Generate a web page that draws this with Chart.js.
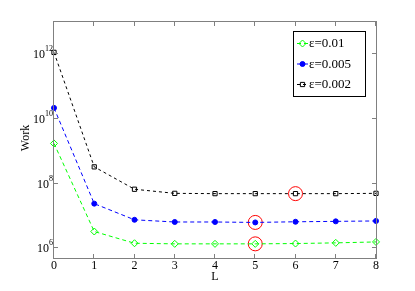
<!DOCTYPE html>
<html>
<head>
<meta charset="utf-8">
<script src="https://cdn.jsdelivr.net/npm/chart.js@4/dist/chart.umd.min.js"></script>
<style>
  html, body { margin: 0; padding: 0; background: #fff; }
  canvas { display: block; }
</style>
</head>
<body>
<canvas id="workChart" width="415" height="291"></canvas>
<script>
"use strict";
// levels on the x axis
const levels = [0, 1, 2, 3, 4, 5, 6, 7, 8];
// work for each tolerance
const work001 = [1.75e9, 3.3e6, 1.43e6, 1.37e6, 1.37e6, 1.37e6, 1.4e6, 1.47e6, 1.57e6];
const work0005 = [2.2e10, 2.4e7, 7.6e6, 6.5e6, 6.5e6, 6.3e6, 6.6e6, 6.8e6, 7.0e6];
const work0002 = [1.15e12, 3.3e8, 6.7e7, 5.0e7, 4.9e7, 4.9e7, 4.9e7, 4.9e7, 5.0e7];
const seriesLabels = ['ε=0.01', 'ε=0.005', 'ε=0.002'];
// optimal level marked with a red circle, per series
const optimalLevel = [5, 5, 6];
const yTicks = [1e6, 1e8, 1e10, 1e12];
const yExponents = ['6', '8', '10', '12'];

const serif = '"Liberation Serif", "DejaVu Serif", serif';
const allSeries = [work001, work0005, work0002];

const toPoints = arr => arr.map((v, i) => ({ x: levels[i], y: v }));

const styles = [
    { color: '#00ff00', pointStyle: 'rectRot', radius: 3.5, fill: 'rgba(0,0,0,0)', dash: [4, 3] },
    { color: '#0000ff', pointStyle: 'circle', radius: 2.5, fill: '#0000ff', dash: [4, 3] },
    { color: '#000000', pointStyle: 'rect', radius: 3, fill: 'rgba(0,0,0,0)', dash: [3, 3] },
];

const datasets = allSeries.map((arr, k) => ({
    label: seriesLabels[k],
    data: toPoints(arr),
    borderColor: styles[k].color,
    backgroundColor: styles[k].fill,
    borderWidth: 1,
    borderDash: styles[k].dash,
    pointStyle: styles[k].pointStyle,
    pointRadius: styles[k].radius,
    pointBorderWidth: 1,
    pointBorderColor: styles[k].color,
    pointBackgroundColor: styles[k].fill,
    showLine: true,
    tension: 0,
    clip: 12,
}));

datasets.push({
    label: 'optimal',
    data: optimalLevel.map((lv, k) => ({ x: lv, y: allSeries[k][levels.indexOf(lv)] })),
    showLine: false,
    pointStyle: 'circle',
    pointRadius: 7,
    pointBorderWidth: 1,
    pointBorderColor: '#ff0000',
    pointBackgroundColor: 'rgba(0,0,0,0)',
    clip: 12,
});

const framePlugin = {
    id: 'matlabFrame',
    afterDraw(chart) {
        const { ctx, chartArea: a, scales } = chart;
        const xs = scales.x, ys = scales.y;
        ctx.save();
        ctx.strokeStyle = '#808080';
        ctx.lineWidth = 1;
        ctx.setLineDash([]);
        ctx.strokeRect(a.left - 0.5, a.top - 0.5, a.right - a.left + 1, a.bottom - a.top + 1);
        ctx.beginPath();
        levels.forEach(v => {
            const px = Math.round(xs.getPixelForValue(v)) - 0.5;
            ctx.moveTo(px, a.bottom); ctx.lineTo(px, a.bottom - 4);
            ctx.moveTo(px, a.top); ctx.lineTo(px, a.top + 4);
        });
        yTicks.forEach(v => {
            const py = Math.round(ys.getPixelForValue(v)) - 0.5;
            ctx.moveTo(a.left, py); ctx.lineTo(a.left + 4, py);
            ctx.moveTo(a.right, py); ctx.lineTo(a.right - 4, py);
        });
        ctx.stroke();

        ctx.fillStyle = '#000';
        ctx.font = '12px ' + serif;
        ctx.textAlign = 'center';
        ctx.textBaseline = 'middle';
        levels.forEach(v => ctx.fillText(String(v), xs.getPixelForValue(v), a.bottom + 8));

        yTicks.forEach((v, i) => {
            const py = ys.getPixelForValue(v);
            ctx.font = '8px ' + serif;
            ctx.textAlign = 'left';
            ctx.textBaseline = 'middle';
            const ew = ctx.measureText(yExponents[i]).width;
            const ex = a.left - 1 - ew;
            ctx.fillText(yExponents[i], ex, py - 5);
            ctx.font = '12px ' + serif;
            ctx.textAlign = 'right';
            ctx.fillText('10', ex, py + 1);
        });

        ctx.font = '12px ' + serif;
        ctx.textAlign = 'center';
        ctx.fillText('L', (a.left + a.right) / 2, a.bottom + 19);
        ctx.save();
        ctx.translate(26, 138);
        ctx.rotate(-Math.PI / 2);
        ctx.fillText('Work', 0, 0);
        ctx.restore();

        // legend box
        const lx = 293.5, ly = 31.5, lw = 72, lh = 65;
        ctx.fillStyle = '#fff';
        ctx.fillRect(lx, ly, lw, lh);
        ctx.strokeStyle = '#000';
        ctx.strokeRect(lx, ly, lw, lh);
        const rowY = [43.5, 64, 84.5];
        chart.data.datasets.slice(0, 3).forEach((ds, k) => {
            const y = rowY[k];
            ctx.strokeStyle = ds.borderColor;
            ctx.lineWidth = 1;
            ctx.setLineDash(ds.borderDash);
            ctx.beginPath();
            ctx.moveTo(297, y); ctx.lineTo(308, y);
            ctx.stroke();
            ctx.setLineDash([]);
            ctx.strokeStyle = ds.pointBorderColor;
            ctx.fillStyle = ds.pointBackgroundColor;
            Chart.helpers.drawPoint(ctx, {
                pointStyle: ds.pointStyle,
                radius: ds.pointRadius,
                borderWidth: 1,
                rotation: 0,
            }, 302.5, y);
            ctx.fillStyle = '#000';
            ctx.font = '13px ' + serif;
            ctx.textAlign = 'left';
            ctx.textBaseline = 'middle';
            ctx.fillText(ds.label, 309, y + 0.5);
        });
        ctx.restore();
    },
};

new Chart(document.getElementById('workChart').getContext('2d'), {
    type: 'scatter',
    data: { datasets },
    options: {
        responsive: false,
        animation: false,
        devicePixelRatio: 1,
        layout: { padding: { left: 54, top: 22, right: 39, bottom: 33 } },
        plugins: { legend: { display: false }, tooltip: { enabled: false } },
        scales: {
            x: { type: 'linear', min: 0, max: 8, display: false },
            y: { type: 'logarithmic', min: 5e5, max: 1e13, display: false },
        },
    },
    plugins: [framePlugin],
});
</script>
</body>
</html>
